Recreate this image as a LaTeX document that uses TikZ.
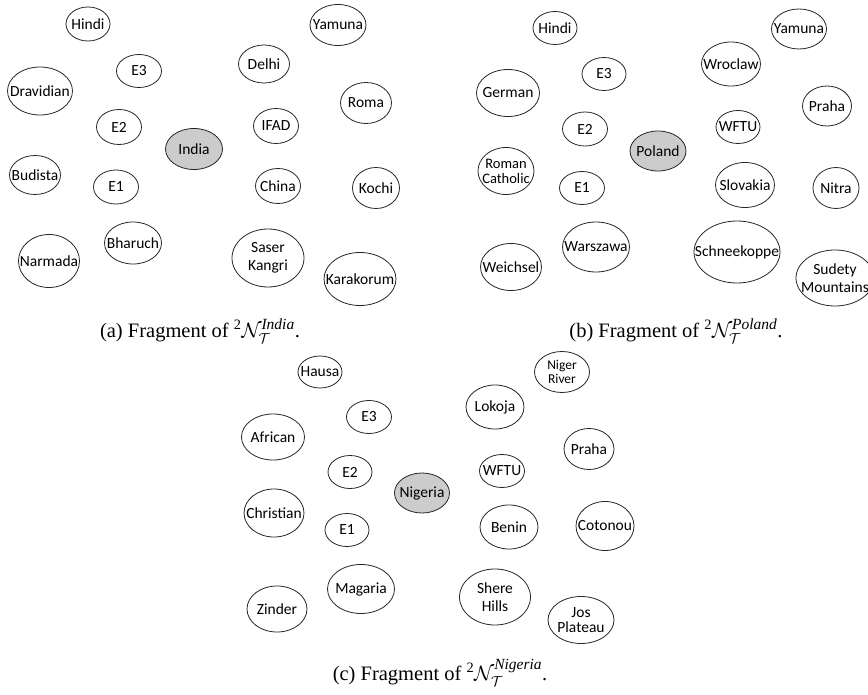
\documentclass[tikz,border=0pt]{standalone}
\usepackage{amsmath}
\usepackage{fontspec}
\setmainfont{Liberation Serif}
\newfontfamily\nodefont{Carlito}
\usepackage{tikz}
\usetikzlibrary{shapes.geometric}
\tikzstyle{concept} = [ellipse, draw=black!85, line width=0.8pt, inner sep=0pt]
\tikzstyle{focus} = [concept, fill=gray!40]
\tikzstyle{word} = [font=\nodefont\fontsize{15.5}{18.5}\selectfont, align=center, inner sep=0pt]
\tikzstyle{small} = [font=\nodefont\fontsize{14.5}{15}\selectfont]
\tikzstyle{subcap} = [font=\fontsize{20.5}{24}\selectfont, inner sep=0pt]
\tikzset{dims/.style 2 args={minimum width=#1pt, minimum height=#2pt}}
\newcommand{\supname}[1]{\text{\fontsize{15.5}{16}\selectfont\itshape #1}}

\begin{document}
\begin{tikzpicture}[x=1pt, y=-1pt]
		\clip (0,0) rectangle (868,695);
		%(a) India
		\node (hindiA) [concept, dims={44}{34}, label={[word]center:Hindi}] at (88,24) {};
		\node (yamunaA) [concept, dims={56}{41}, label={[word]center:Yamuna}] at (338,25) {};
		\node (e3A) [concept, dims={45}{33}, label={[word]center:E3}] at (139,71) {};
		\node (delhiA) [concept, dims={51}{38}, label={[word]center:Delhi}] at (264,64) {};
		\node (dravidianA) [concept, dims={65}{48}, label={[word]center:Dravidian}] at (40,91) {};
		\node (romaA) [concept, dims={51}{41}, label={[word]center:Roma}] at (366,103) {};
		\node (e2A) [concept, dims={45}{35}, label={[word]center:E2}] at (119,127) {};
		\node (ifadA) [concept, dims={45}{35}, label={[word]center:IFAD}] at (276,126) {};
		\node (indiaA) [focus, dims={57}{41}, label={[word]center:India}] at (194,149) {};
		\node (budistaA) [concept, dims={51}{39}, label={[word]center:Budista}] at (35,175) {};
		\node (e1A) [concept, dims={45}{34}, label={[word]center:E1}] at (116,187) {};
		\node (chinaA) [concept, dims={45}{35}, label={[word]center:China}] at (278,186) {};
		\node (kochiA) [concept, dims={47}{41}, label={[word]center:Kochi}] at (376,188) {};
		\node (bharuchA) [concept, dims={57}{42}, label={[word]center:Bharuch}] at (133,243) {};
		\node (narmadaA) [concept, dims={61}{53}, label={[word]center:Narmada}] at (49,261) {};
		\node (saserA) [concept, dims={72}{58}, label={[word]center:Saser\\Kangri}] at (268,258) {};
		\node (karakorumA) [concept, dims={72}{53}, label={[word]center:Karakorum}] at (360,279) {};
		\node (capA) [subcap] at (200,331) {(a) Fragment of ${}^{\text{2}}\mathcal{N}_{\mathcal{T}}^{\supname{India}}$.};
		
		%(b) Poland
		\node (hindiB) [concept, dims={44}{33}, label={[word]center:Hindi}] at (555,28) {};
		\node (yamunaB) [concept, dims={55}{40}, label={[word]center:Yamuna}] at (799,29) {};
		\node (e3B) [concept, dims={44}{33}, label={[word]center:E3}] at (604,74) {};
		\node (wroclawB) [concept, dims={59}{44}, label={[word]center:Wroclaw}] at (731,64) {};
		\node (germanB) [concept, dims={63}{47}, label={[word]center:German}] at (508,93) {};
		\node (prahaB) [concept, dims={49}{40}, label={[word]center:Praha}] at (827,106) {};
		\node (e2B) [concept, dims={45}{34}, label={[word]center:E2}] at (585,129) {};
		\node (wftuB) [concept, dims={44}{33}, label={[word]center:WFTU}] at (738,127) {};
		\node (polandB) [focus, dims={56}{40}, label={[word]center:Poland}] at (658,151) {};
		\node (romanB) [concept, dims={56}{47}, label={[word, small]center:Roman\\Catholic}] at (506,171) {};
		\node (e1B) [concept, dims={45}{33}, label={[word]center:E1}] at (582,188) {};
		\node (slovakiaB) [concept, dims={59}{45}, label={[word]center:Slovakia}] at (745,185) {};
		\node (nitraB) [concept, dims={46}{41}, label={[word]center:Nitra}] at (836,188) {};
		\node (warszawaB) [concept, dims={67}{50}, label={[word]center:Warszawa}] at (596,247) {};
		\node (weichselB) [concept, dims={61}{47}, label={[word]center:Weichsel}] at (511,267) {};
		\node (schneeB) [concept, dims={86}{62}, label={[word]center:Schneekoppe}] at (737,252) {};
		\node (sudetyB) [concept, dims={78}{56}, label={[word]center:Sudety\\Mountains}] at (835,278) {};
		\node (capB) [subcap] at (676,331) {(b) Fragment of ${}^{\text{2}}\mathcal{N}_{\mathcal{T}}^{\supname{Poland}}$.};
		
		%(c) Nigeria
		\node (hausaC) [concept, dims={44}{32}, label={[word]center:Hausa}] at (320,372) {};
		\node (nigerC) [concept, dims={55}{41}, label={[word, font=\nodefont\fontsize{13.5}{14}\selectfont]center:Niger\\River}] at (562,372) {};
		\node (e3C) [concept, dims={45}{33}, label={[word]center:E3}] at (369,417) {};
		\node (lokojaC) [concept, dims={58}{44}, label={[word]center:Lokoja}] at (495,407) {};
		\node (africanC) [concept, dims={63}{46}, label={[word]center:African}] at (273,437) {};
		\node (prahaC) [concept, dims={50}{41}, label={[word]center:Praha}] at (589,449) {};
		\node (e2C) [concept, dims={44}{33}, label={[word]center:E2}] at (350,472) {};
		\node (wftuC) [concept, dims={45}{33}, label={[word]center:WFTU}] at (502,471) {};
		\node (nigeriaC) [focus, dims={55}{40}, label={[word]center:Nigeria}] at (422,493) {};
		\node (christianC) [concept, dims={60}{48}, label={[word]center:Christian}] at (274,513) {};
		\node (e1C) [concept, dims={44}{33}, label={[word]center:E1}] at (347,530) {};
		\node (beninC) [concept, dims={58}{44}, label={[word]center:Benin}] at (509,527) {};
		\node (cotonouC) [concept, dims={58}{49}, label={[word]center:Cotonou}] at (605,526) {};
		\node (magariaC) [concept, dims={67}{49}, label={[word]center:Magaria}] at (361,589) {};
		\node (zinderC) [concept, dims={60}{46}, label={[word]center:Zinder}] at (277,609) {};
		\node (shereC) [concept, dims={71}{56}, label={[word]center:Shere\\Hills}] at (495,597) {};
		\node (josC) [concept, dims={66}{47}, label={[word, font=\nodefont\fontsize{15.5}{15.5}\selectfont]center:Jos\\Plateau}] at (581,620) {};
		\node (capC) [subcap] at (440,673) {(c) Fragment of ${}^{\text{2}}\mathcal{N}_{\mathcal{T}}^{\supname{Nigeria}}$.};
	\end{tikzpicture}
\end{document}
